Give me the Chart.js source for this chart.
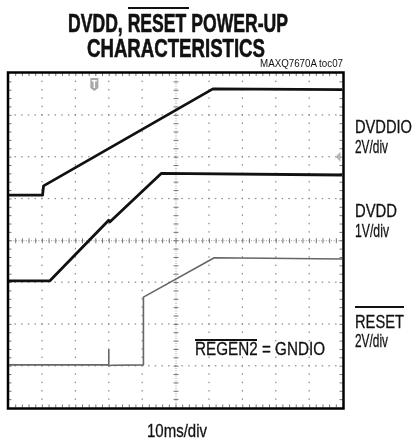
<!DOCTYPE html>
<html>
<head>
<meta charset="utf-8">
<script src="https://cdn.jsdelivr.net/npm/chart.js@4.4.1/dist/chart.umd.min.js"></script>
<style>
  html, body { margin: 0; padding: 0; background: #fff; }
  #wrap { position: relative; width: 413px; height: 441px; overflow: hidden; }
  #scope { position: absolute; left: 0; top: 0; }
  .t { position: absolute; white-space: nowrap; font-family: "Liberation Sans Narrow", "Liberation Sans", Arial, sans-serif;
       color: #111; transform-origin: 0 0; }
  .bar { position: absolute; background: #111; }
</style>
</head>
<body>
<div id="wrap">
  <canvas id="scope" width="413" height="441"></canvas>
</div>
<script>
// time in ms (10ms/div), level in screen divisions from the bottom of the graticule
const dvddioTime = [0, 10.2, 10.5, 61.2, 100];
const dvddioDiv  = [5.08, 5.08, 5.30, 7.62, 7.60];

const dvddTime = [0, 12.4, 30.0, 30.4, 45.8, 100];
const dvddDiv  = [3.03, 3.03, 4.48, 4.44, 5.60, 5.56];

const resetTime = [0, 30.0, 30.0, 30.05, 31.0, 40.4, 40.4, 61.6, 100];
const resetDiv  = [1.02, 1.02, 1.38, 1.00, 1.01, 1.02, 2.64, 3.58, 3.55];

const timeTicks = [0, 10, 20, 30, 40, 50, 60, 70, 80, 90, 100];
const divTicks = [0, 1, 2, 3, 4, 5, 6, 7, 8];

// text: [content, left x, baseline y, font px, target width, bold]
const labels = [
    ['DVDD, RESET POWER-UP', 68, 32, 26, 220, true],
    ['CHARACTERISTICS', 87, 57, 26, 178, true],
    ['MAXQ7670A toc07', 260, 67, 10, 83, false],
    ['DVDDIO', 355, 133, 19, 57, false],
    ['2V/div', 355, 153, 19, 33, false],
    ['DVDD', 355, 217, 19, 42, false],
    ['1V/div', 355, 237, 19, 34, false],
    ['RESET', 355, 328, 19, 49, false],
    ['2V/div', 355, 347, 19, 33, false],
    ['REGEN2 = GNDIO', 195, 355, 19, 130, false],
    ['10ms/div', 147, 437, 19, 60, false]
];
// overlines: [x0, x1, y]
const overlines = [[128, 189, 7], [355, 404, 306], [195, 257, 339]];

const wrap = document.getElementById('wrap');
labels.forEach(([txt, x, base, fs, w, bold]) => {
    const el = document.createElement('div');
    el.className = 't';
    el.textContent = txt;
    el.style.fontSize = fs + 'px';
    el.style.lineHeight = fs + 'px';
    el.style.fontWeight = bold ? 'bold' : 'normal';
    el.style.webkitTextStroke = (bold ? 0.6 : (fs > 12 ? 0.3 : 0)) + 'px #111';
    el.style.left = x + 'px';
    el.style.top = (base - 0.8465 * fs) + 'px';
    wrap.appendChild(el);
    const nat = el.getBoundingClientRect().width;
    el.style.transform = 'scaleX(' + (w / nat) + ')';
});
overlines.forEach(([a, b, y]) => {
    const el = document.createElement('div');
    el.className = 'bar';
    el.style.left = a + 'px';
    el.style.width = (b - a) + 'px';
    el.style.top = y + 'px';
    el.style.height = (y < 20 ? 2 : 1.5) + 'px';
    wrap.appendChild(el);
});

function pts(xs, ys) {
    return xs.map((x, i) => ({ x: x, y: ys[i] }));
}

const graticule = {
    id: 'graticule',
    beforeDatasetsDraw(chart) {
        const { ctx, scales: { x, y } } = chart;
        const px = v => x.getPixelForValue(v);
        const py = v => y.getPixelForValue(v);
        ctx.save();
        ctx.fillStyle = '#8a8a8a';
        // dotted major lines
        timeTicks.slice(1, -1).forEach(t => {
            if (t === 50) return;
            for (let d = 0.2; d < 7.9; d += 0.2) ctx.fillRect(px(t) - 0.5, py(d) - 0.75, 1.2, 1.5);
        });
        divTicks.slice(1, -1).forEach(d => {
            if (d === 4) return;
            for (let t = 2; t < 99; t += 2) ctx.fillRect(px(t) - 0.75, py(d) - 0.5, 1.5, 1.2);
        });
        // centre lines with minor ticks
        ctx.strokeStyle = '#9a9a9a';
        ctx.lineWidth = 1;
        ctx.setLineDash([1, 1.5]);
        ctx.beginPath();
        ctx.moveTo(px(0), py(4) + 0.5); ctx.lineTo(px(100), py(4) + 0.5);
        ctx.moveTo(px(50) + 0.5, py(8)); ctx.lineTo(px(50) + 0.5, py(0));
        ctx.stroke();
        ctx.setLineDash([]);
        ctx.strokeStyle = '#777';
        ctx.beginPath();
        for (let t = 2; t < 99; t += 2) {
            ctx.moveTo(px(t) + 0.5, py(4) - 2); ctx.lineTo(px(t) + 0.5, py(4) + 3);
            ctx.moveTo(px(t) + 0.5, py(0)); ctx.lineTo(px(t) + 0.5, py(0) - 3);
            ctx.moveTo(px(t) + 0.5, py(8)); ctx.lineTo(px(t) + 0.5, py(8) + 3);
        }
        for (let d = 0.2; d < 7.9; d += 0.2) {
            ctx.moveTo(px(50) - 2, py(d) + 0.5); ctx.lineTo(px(50) + 3, py(d) + 0.5);
            ctx.moveTo(px(0), py(d) + 0.5); ctx.lineTo(px(0) + 3, py(d) + 0.5);
            ctx.moveTo(px(100), py(d) + 0.5); ctx.lineTo(px(100) - 3, py(d) + 0.5);
        }
        ctx.stroke();
        ctx.restore();
    },
    afterDatasetsDraw(chart) {
        const { ctx, scales: { x, y } } = chart;
        const px = v => x.getPixelForValue(v);
        const py = v => y.getPixelForValue(v);
        ctx.save();
        // frame
        ctx.strokeStyle = '#000';
        ctx.lineWidth = 2.5;
        ctx.strokeRect(px(0) - 0.5, py(8) - 0.5, px(100) - px(0) + 1.5, py(0) - py(8) + 1.5);
        // trigger marker
        const tx = px(25.7), ty = py(8) + 5;
        ctx.fillStyle = '#a8a8a8';
        ctx.beginPath();
        ctx.moveTo(tx - 4, ty);
        ctx.lineTo(tx + 4, ty);
        ctx.lineTo(tx + 4, ty + 10);
        ctx.lineTo(tx, ty + 13);
        ctx.lineTo(tx - 4, ty + 10);
        ctx.closePath();
        ctx.fill();
        ctx.fillStyle = '#fff';
        ctx.fillRect(tx - 2.5, ty + 2, 5, 1.5);
        ctx.fillRect(tx - 0.75, ty + 2, 1.5, 8);
        // ground reference arrow on the right edge
        const ax = px(100) - 2, ay = py(6);
        ctx.fillStyle = '#b5b5b5';
        ctx.beginPath();
        ctx.moveTo(ax, ay - 5);
        ctx.lineTo(ax, ay + 5);
        ctx.lineTo(ax - 5, ay);
        ctx.closePath();
        ctx.fill();
        ctx.restore();
    }
};

new Chart(document.getElementById('scope'), {
    type: 'line',
    data: {
        datasets: [
            { label: 'DVDDIO', data: pts(dvddioTime, dvddioDiv), borderColor: '#111', borderWidth: 2.8 },
            { label: 'DVDD', data: pts(dvddTime, dvddDiv), borderColor: '#111', borderWidth: 2.8 },
            { label: 'RESET', data: pts(resetTime, resetDiv), borderColor: '#666', borderWidth: 1.6 }
        ]
    },
    options: {
        responsive: false,
        animation: false,
        events: [],
        layout: { padding: { left: 8.5, right: 70.5, top: 73, bottom: 33.5 } },
        elements: { point: { radius: 0 }, line: { tension: 0, borderJoinStyle: 'round' } },
        plugins: { legend: { display: false }, title: { display: false }, tooltip: { enabled: false } },
        scales: {
            x: { type: 'linear', min: 0, max: 100, display: false },
            y: { type: 'linear', min: 0, max: 8, display: false }
        }
    },
    plugins: [graticule]
});
</script>
</body>
</html>
